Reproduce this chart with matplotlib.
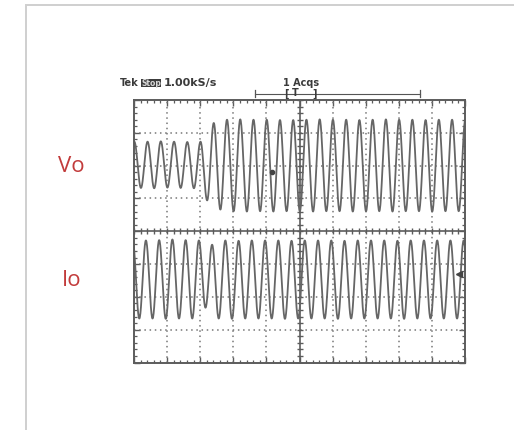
import numpy as np
import matplotlib
matplotlib.use('Agg')
import matplotlib.pyplot as plt
from matplotlib.patches import Rectangle

periodo = 0.4          # div por ciclo
vo_t0 = -0.19          # primeiro vale de Vo
io_t0 = -0.04          # primeiro pico de Io

vo_vales = [1.32, 1.32, 1.31, 1.33, 1.32, 1.31, 0.94, 0.66, 0.61, 0.60, 0.61, 0.60, 0.61,
            0.61, 0.60, 0.61, 0.61, 0.60, 0.61, 0.61, 0.60, 0.61, 0.61, 0.60, 0.61, 0.61]
vo_picos = [2.73, 2.73, 2.74, 2.73, 2.72, 2.73, 3.30, 3.40, 3.41, 3.40, 3.40, 3.39, 3.39,
            3.40, 3.41, 3.40, 3.40, 3.39, 3.40, 3.41, 3.40, 3.40, 3.39, 3.40, 3.40, 3.40]

io_picos = [-0.28, -0.28, -0.27, -0.25, -0.27, -0.28, -0.41, -0.28, -0.29, -0.28, -0.28,
            -0.28, -0.29, -0.28, -0.28, -0.28, -0.29, -0.28, -0.28, -0.28, -0.29, -0.28,
            -0.28, -0.28, -0.28, -0.28]
io_vales = [-2.66, -2.66, -2.67, -2.66, -2.66, -2.33, -2.66, -2.67, -2.66, -2.66, -2.66,
            -2.67, -2.66, -2.66, -2.66, -2.67, -2.66, -2.66, -2.66, -2.66, -2.67, -2.66,
            -2.66, -2.66, -2.66, -2.66]

# marcadores do proprio osciloscopio
vo_ponto = (4.16, 1.80)
io_marca = (9.83, -1.30)

rotulos = ['Vo', 'Io']
rotulos_y = [166, 280]   # px


def intercala(a, b):
    out = []
    for x, y in zip(a, b):
        out += [x, y]
    return out


def onda(t0, ext, n=24):
    # meio cosseno entre extremos sucessivos
    ts, vs = [], []
    for i in range(len(ext) - 1):
        s = np.linspace(0, 1, n, endpoint=False)
        ta = t0 + i * periodo / 2
        ts.append(ta + s * periodo / 2)
        vs.append(ext[i] + (ext[i + 1] - ext[i]) * (1 - np.cos(np.pi * s)) / 2)
    return np.concatenate(ts), np.concatenate(vs)


W, H = 514, 430
fig = plt.figure(figsize=(W / 100, H / 100), dpi=100)

# camada de fundo em pixels (moldura, textos)
bg = fig.add_axes([0, 0, 1, 1])
bg.set_xlim(0, W)
bg.set_ylim(H, 0)
bg.axis('off')
bg.plot([26, 26, W], [H, 5, 5], color='#cfcfcf', lw=1.4, solid_joinstyle='miter')

cor_txt = '#3a3a3a'
bg.text(120, 83, 'Tek', fontsize=7, fontweight='bold', color=cor_txt, va='center')
bg.add_patch(Rectangle((141, 79), 20, 8, facecolor='#3c3c3c', edgecolor='none'))
bg.text(151, 83, 'Stop', fontsize=5.5, fontweight='bold', color='#d8d8d8',
        va='center', ha='center')
bg.text(163.5, 83, '1.00kS/s', fontsize=8, fontweight='bold', color=cor_txt, va='center')
bg.text(283, 83, '1 Acqs', fontsize=7, fontweight='bold', color=cor_txt, va='center')
bg.plot([255, 420], [93.5, 93.5], color='#555555', lw=0.8)
bg.plot([255, 255], [90, 97], color='#555555', lw=0.9)
bg.plot([420, 420], [90, 97], color='#555555', lw=0.9)
bg.text(284, 93.5, '[', fontsize=7, fontweight='bold', color=cor_txt, va='center', ha='left')
bg.text(295, 92.5, 'T', fontsize=7, fontweight='bold', color=cor_txt, va='center', ha='center')
bg.text(317, 93.5, ']', fontsize=7, fontweight='bold', color=cor_txt, va='center', ha='right')

for r, y in zip(rotulos, rotulos_y):
    bg.text(71.5, y, r, fontsize=16, color='#c23b3b', family='Open Sans',
            ha='center', va='center')

# tela do osciloscopio
ax = fig.add_axes([134 / W, (H - 362.5) / H, (465 - 134) / W, (362.5 - 100) / H])
ax.set_xlim(0, 10)
ax.set_ylim(-4, 4)
cinza = '#5c5c5c'
for x in range(1, 10):
    if x != 5:
        ax.axvline(x, color='#777777', lw=1.1, dashes=(1, 2.4))
for y in range(-3, 4):
    if y != 0:
        ax.axhline(y, color='#777777', lw=1.1, dashes=(1, 2.4))
ax.axvline(5, color=cinza, lw=1.2)
ax.axhline(0, color=cinza, lw=1.2)
mx = np.arange(0, 10.01, 0.2)
my = np.arange(-4, 4.01, 0.2)
ax.plot(mx, np.zeros_like(mx), ls='none', marker='|', ms=5, mew=1.0, color=cinza)
ax.plot(np.full_like(my, 5), my, ls='none', marker='_', ms=5, mew=1.0, color=cinza)

for s in ax.spines.values():
    s.set_color(cinza)
    s.set_linewidth(1.4)
ax.set_xticks(range(0, 11))
ax.set_yticks(range(-4, 5))
ax.set_xticks(mx, minor=True)
ax.set_yticks(my, minor=True)
ax.tick_params(which='both', direction='in', top=True, right=True, color=cinza,
               labelbottom=False, labelleft=False)
ax.tick_params(which='major', length=4, width=1.0)
ax.tick_params(which='minor', length=2.5, width=0.9)

t, v = onda(vo_t0, intercala(vo_vales, vo_picos))
ax.plot(t, v, color='#666666', lw=1.3)
t, v = onda(io_t0, intercala(io_picos, io_vales))
ax.plot(t, v, color='#666666', lw=1.3)

ax.plot(*vo_ponto, marker='o', ms=3, color='#444444')
ax.plot(*io_marca, marker='<', ms=4, color='#444444')

fig.savefig('out.png', dpi=100)
